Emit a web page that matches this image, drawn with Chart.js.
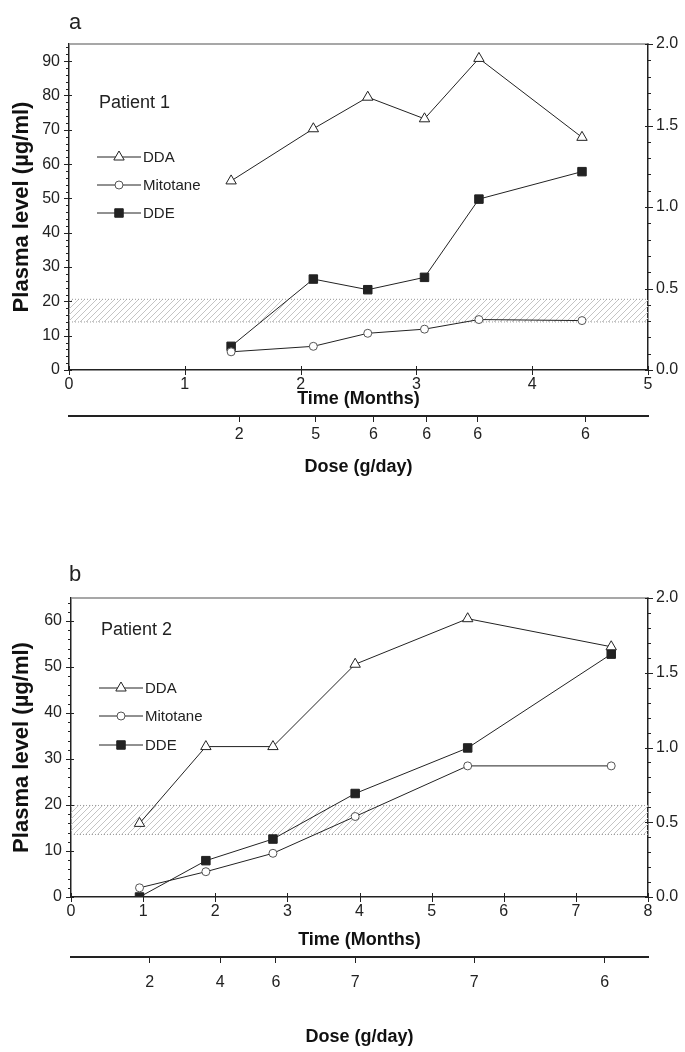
<!DOCTYPE html>
<html>
<head>
<meta charset="utf-8">
<script src="https://cdn.jsdelivr.net/npm/chart.js@4.4.1/dist/chart.umd.min.js"></script>
<style>
html, body { margin: 0; padding: 0; background: #fff; }
#page { position: relative; width: 685px; height: 1052px; overflow: hidden; font-family: "Liberation Sans", Arial, sans-serif; }
.panel { position: absolute; left: 0; width: 685px; }
.tag { position: absolute; font-size: 22px; color: #222; line-height: 1; }
</style>
</head>
<body>
<div id="page">
	<div class="panel" style="top:0; height:482px;"><canvas id="chartA"></canvas></div>
	<div class="panel" style="top:530px; height:522px;"><canvas id="chartB"></canvas></div>
	<div class="tag" style="left:69px; top:11px;">a</div>
	<div class="tag" style="left:69px; top:563px;">b</div>
</div>
<script>
// patient 1 (panel a)
var time1 = [1.40, 2.11, 2.58, 3.07, 3.54, 4.43];
var dda1 = [55.1, 70.3, 79.5, 73.2, 90.8, 67.8];
var mitotane1 = [5.3, 6.9, 10.7, 11.9, 14.7, 14.4];
var dde1 = [6.9, 26.5, 23.4, 27.0, 49.8, 57.8];
var doseTime1 = [1.47, 2.13, 2.63, 3.09, 3.53, 4.46];
var dose1 = ["2", "5", "6", "6", "6", "6"];
var band1 = [14, 20.6];
var timeTicks1 = [0, 1, 2, 3, 4, 5];
var levelTicks1 = [0, 10, 20, 30, 40, 50, 60, 70, 80, 90];

// patient 2 (panel b)
var time2 = [0.95, 1.87, 2.80, 3.94, 5.50, 7.49];
var dda2 = [16.0, 32.7, 32.7, 50.6, 60.5, 54.4];
var mitotane2 = [2.0, 5.5, 9.5, 17.5, 28.5, 28.5];
var dde2 = [0, 7.9, 12.6, 22.5, 32.4, 52.8];
var doseTime2 = [1.09, 2.07, 2.84, 3.94, 5.59, 7.40];
var dose2 = ["2", "4", "6", "7", "7", "6"];
var band2 = [13.6, 19.9];
var timeTicks2 = [0, 1, 2, 3, 4, 5, 6, 7, 8];
var levelTicks2 = [0, 10, 20, 30, 40, 50, 60];

var rightTicks = [0, 0.5, 1, 1.5, 2];
var seriesNames = ["DDA", "Mitotane", "DDE"];

var INK = "#222";
var FONT = "'Liberation Sans', Arial, sans-serif";

function xy(xs, ys) {
	return xs.map(function(x, i) { return {x: x, y: ys[i]}; });
}

function hatch() {
	var c = document.createElement("canvas");
	c.width = 6; c.height = 6;
	var g = c.getContext("2d");
	g.strokeStyle = "#c4c4c4";
	g.lineWidth = 1;
	g.beginPath();
	g.moveTo(0, 6); g.lineTo(6, 0);
	g.moveTo(-1, 1); g.lineTo(1, -1);
	g.moveTo(5, 7); g.lineTo(7, 5);
	g.stroke();
	return g.createPattern(c, "repeat");
}

function line(label, xs, ys, style, radius, fill, edge) {
	return {
		label: label,
		data: xy(xs, ys),
		borderColor: INK,
		borderWidth: 1,
		pointStyle: style,
		pointRadius: radius,
		pointBackgroundColor: fill,
		pointBorderColor: edge,
		pointBorderWidth: 1,
		tension: 0,
		fill: false
	};
}

function bandSet(lo, hi, xMax) {
	return [{
		label: "band_hi",
		data: xy([0, xMax], [hi, hi]),
		borderColor: "#9a9a9a",
		borderWidth: 1,
		borderDash: [1, 2],
		pointRadius: 0,
		backgroundColor: hatch(),
		fill: "+1"
	}, {
		label: "band_lo",
		data: xy([0, xMax], [lo, lo]),
		borderColor: "#9a9a9a",
		borderWidth: 1,
		borderDash: [1, 2],
		pointRadius: 0,
		fill: false
	}];
}

// ticks across the axes, top frame line, legend and patient label
var decorations = {
	id: "decorations",
	afterDraw: function(chart, args, o) {
		var ctx = chart.ctx, a = chart.chartArea;
		var yl = chart.scales.y, yr = chart.scales.y2, xs = chart.scales.x;
		var k, p;
		ctx.save();
		ctx.lineWidth = 1.5;
		ctx.strokeStyle = "#8a8a8a";
		ctx.beginPath();
		ctx.moveTo(a.left, a.top); ctx.lineTo(a.right, a.top);
		ctx.stroke();

		ctx.strokeStyle = INK;
		ctx.lineWidth = 1;
		ctx.beginPath();
		for (k = 0; k * o.leftMinor <= yl.max + 1e-9; k++) {
			p = Math.round(yl.getPixelForValue(k * o.leftMinor)) + 0.5;
			ctx.moveTo(a.left - 3, p); ctx.lineTo(a.left, p);
		}
		for (k = 0; k * o.rightMinor <= yr.max + 1e-9; k++) {
			p = Math.round(yr.getPixelForValue(k * o.rightMinor)) + 0.5;
			ctx.moveTo(a.right, p); ctx.lineTo(a.right + 3, p);
		}
		yl.ticks.forEach(function(t) {
			p = Math.round(yl.getPixelForValue(t.value)) + 0.5;
			ctx.moveTo(a.left - 5, p); ctx.lineTo(a.left + 3, p);
		});
		yr.ticks.forEach(function(t) {
			p = Math.round(yr.getPixelForValue(t.value)) + 0.5;
			ctx.moveTo(a.right - 3, p); ctx.lineTo(a.right + 5, p);
		});
		xs.ticks.forEach(function(t) {
			p = Math.round(xs.getPixelForValue(t.value)) + 0.5;
			ctx.moveTo(p, a.bottom - 4); ctx.lineTo(p, a.bottom + 5);
		});
		ctx.stroke();

		// patient label
		ctx.fillStyle = INK;
		ctx.font = "18px " + FONT;
		ctx.textBaseline = "middle";
		ctx.textAlign = "left";
		ctx.fillText(o.patient, a.left + 30, a.top + o.patientY);

		// legend
		ctx.font = "15px " + FONT;
		o.legendY.forEach(function(dy, i) {
			var ds = chart.data.datasets[i];
			var y = a.top + dy, x0 = a.left + 28;
			ctx.strokeStyle = ds.borderColor;
			ctx.lineWidth = 1;
			ctx.beginPath();
			ctx.moveTo(x0, y); ctx.lineTo(x0 + 44, y);
			ctx.stroke();
			ctx.fillStyle = ds.pointBackgroundColor;
			ctx.strokeStyle = ds.pointBorderColor;
			Chart.helpers.drawPoint(ctx, {pointStyle: ds.pointStyle, radius: ds.pointRadius, rotation: 0, borderWidth: 1}, x0 + 22, y);
			ctx.fillStyle = INK;
			ctx.fillText(ds.label, x0 + 46, y + 1);
		});
		ctx.restore();
	}
};

function fixWidth(w) { return function(s) { s.width = w; }; }
function fixHeight(h) { return function(s) { s.height = h; }; }
function setTicks(arr) { return function(s) { s.ticks = arr.map(function(v) { return {value: v}; }); }; }

function makeChart(id, g) {
	var tickFont = {family: FONT, size: 16};
	var titleFont = {family: FONT, size: 18, weight: "bold"};
	return new Chart(document.getElementById(id), {
		type: "line",
		data: {
			datasets: [
				line(seriesNames[0], g.time, g.dda, "triangle", 6, "#fff", INK),
				line(seriesNames[1], g.time, g.mitotane, "circle", 4, "#fff", "#555"),
				line(seriesNames[2], g.time, g.dde, "rect", 6, INK, INK)
			].concat(bandSet(g.band[0], g.band[1], g.xMax))
		},
		options: {
			responsive: true,
			maintainAspectRatio: false,
			animation: false,
			layout: {padding: {top: g.padTop, left: 0, right: 0, bottom: 0}},
			plugins: {
				legend: {display: false},
				tooltip: {enabled: false},
				decorations: {leftMinor: 2, rightMinor: 0.1, patient: g.patient, patientY: g.patientY, legendY: g.legendY}
			},
			scales: {
				x: {
					type: "linear", position: "bottom", min: 0, max: g.xMax,
					afterBuildTicks: setTicks(g.timeTicks),
					afterFit: fixHeight(g.xH),
					grid: {drawOnChartArea: false, tickLength: 4, tickColor: "rgba(0,0,0,0)"},
					border: {color: INK, width: 1.5},
					ticks: {color: INK, font: tickFont, padding: 1, maxRotation: 0},
					title: {display: true, text: "Time (Months)", color: "#111", font: titleFont, padding: {top: 0, bottom: 6}}
				},
				xd: {
					type: "linear", position: "bottom", min: 0, max: g.xMax,
					afterBuildTicks: setTicks(g.doseTime),
					afterFit: fixHeight(g.xdH),
					grid: {drawOnChartArea: false, tickLength: 6, tickColor: INK},
					border: {color: INK, width: 2},
					ticks: {color: INK, font: tickFont, padding: g.doseLabelPad, maxRotation: 0, autoSkip: false,
						callback: function(v, i) { return g.dose[i]; }},
					title: {display: true, text: "Dose (g/day)", color: "#111", font: titleFont, padding: {top: 0, bottom: 4}}
				},
				y: {
					type: "linear", position: "left", min: 0, max: g.yMax,
					afterBuildTicks: setTicks(g.levelTicks),
					afterFit: fixWidth(g.left),
					grid: {drawOnChartArea: false, tickLength: 5, tickColor: "rgba(0,0,0,0)"},
					border: {color: INK, width: 1.5},
					ticks: {color: INK, font: tickFont, padding: 4},
					title: {display: true, text: "Plasma level (µg/ml)", color: "#111", font: {family: FONT, size: 22, weight: "bold"}, padding: {top: 9, bottom: 0}}
				},
				y2: {
					type: "linear", position: "right", min: 0, max: 2,
					afterBuildTicks: setTicks(rightTicks),
					afterFit: fixWidth(685 - 648),
					grid: {drawOnChartArea: false, tickLength: 5, tickColor: "rgba(0,0,0,0)"},
					border: {color: INK, width: 1.5},
					ticks: {color: INK, font: tickFont, padding: 3, callback: function(v) { return v.toFixed(1); }}
				}
			}
		},
		plugins: [decorations]
	});
}

var chartA = makeChart("chartA", {
	time: time1, dda: dda1, mitotane: mitotane1, dde: dde1,
	doseTime: doseTime1, dose: dose1, band: band1,
	timeTicks: timeTicks1, levelTicks: levelTicks1,
	xMax: 5, yMax: 95, padTop: 44, left: 69, xH: 46, xdH: 66, doseLabelPad: 3,
	patient: "Patient 1", patientY: 59, legendY: [113, 141, 169]
});

var chartB = makeChart("chartB", {
	time: time2, dda: dda2, mitotane: mitotane2, dde: dde2,
	doseTime: doseTime2, dose: dose2, band: band2,
	timeTicks: timeTicks2, levelTicks: levelTicks2,
	xMax: 8, yMax: 65, padTop: 68, left: 71, xH: 60, xdH: 95, doseLabelPad: 10,
	patient: "Patient 2", patientY: 32, legendY: [90, 118, 147]
});
</script>
</body>
</html>
